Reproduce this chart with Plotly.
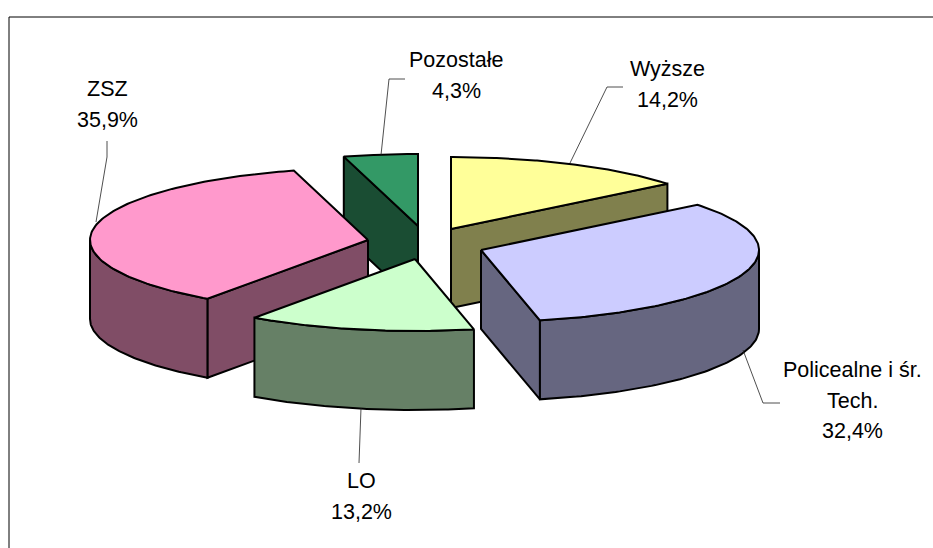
import numpy as np
import plotly.graph_objects as go

# ---- data (clockwise from 12 o'clock) ----
categories = ["Wyższe", "Policealne i śr.<br>Tech.", "LO", "ZSZ", "Pozostałe"]
values = [14.2, 32.4, 13.2, 35.9, 4.3]

# ---- style ----
top_colors = ["#FFFF99", "#CCCCFF", "#CCFFCC", "#FF99CC", "#339966"]
side_colors = ["#80804D", "#666680", "#668066", "#804D66", "#1A4D33"]
centres = [(451, 229), (481, 250), (415, 259), (368, 240), (418, 226)]
RX, RY, DEPTH = 278, 72, 79
draw_order = [4, 0, 3, 1, 2]
FONT = "Liberation Sans, Arial, sans-serif"
LINE_W = 2

# label line centres (x, first-line y)
label_pos = [(667, 69), (852, 370), (361, 481), (107, 89), (456, 60)]
LINE_H = 30.5
leaders = [
    [(623, 87), (607, 87), (570, 163)],
    [(780, 403), (763, 403), (743, 350)],
    [(359, 463), (361, 408)],
    [(107, 141), (107, 157), (96, 222)],
    [(405, 79), (389, 79), (381, 155)],
]

edges = np.concatenate([[0], np.cumsum(values)]) / np.sum(values) * 2 * np.pi


def pt(c, a, dz=0.0):
    return c[0] + RX * np.sin(a), c[1] - RY * np.cos(a) + dz


fig = go.Figure()


def face(xs, ys, color):
    fig.add_trace(go.Scatter(
        x=list(xs), y=list(ys), mode="lines", fill="toself", fillcolor=color,
        line=dict(color="black", width=LINE_W, shape="linear"),
        hoverinfo="skip", showlegend=False))


for i in draw_order:
    c = centres[i]
    a0, a1 = edges[i], edges[i + 1]
    # radial wall at the start edge, visible if it faces the viewer
    if np.cos(a0 - np.pi / 2) < -1e-6:
        x, y = pt(c, a0)
        face([c[0], x, x, c[0], c[0]], [c[1], y, y + DEPTH, c[1] + DEPTH, c[1]], side_colors[i])
    # radial wall at the end edge
    if np.cos(a1 + np.pi / 2) < -1e-6:
        x, y = pt(c, a1)
        face([c[0], x, x, c[0], c[0]], [c[1], y, y + DEPTH, c[1] + DEPTH, c[1]], side_colors[i])
    # outer rim: only the front half of the ellipse is visible
    lo, hi = max(a0, np.pi / 2), min(a1, 3 * np.pi / 2)
    if hi > lo:
        t = np.linspace(lo, hi, 80)
        xt, yt = pt(c, t)
        face(np.concatenate([xt, xt[::-1], xt[:1]]),
             np.concatenate([yt, yt[::-1] + DEPTH, yt[:1]]), side_colors[i])
    # top surface
    t = np.linspace(a0, a1, 120)
    xt, yt = pt(c, t)
    face(np.concatenate([[c[0]], xt, [c[0]]]), np.concatenate([[c[1]], yt, [c[1]]]), top_colors[i])

shapes = [
    dict(type="line", x0=9, y0=17, x1=933, y1=17, line=dict(color="black", width=1)),
    dict(type="line", x0=9, y0=17, x1=9, y1=548, line=dict(color="black", width=1)),
]
for pts in leaders:
    for (x0, y0), (x1, y1) in zip(pts[:-1], pts[1:]):
        shapes.append(dict(type="line", x0=x0, y0=y0, x1=x1, y1=y1,
                           line=dict(color="#222222", width=0.8)))

annotations = []
for name, v, (lx, ly) in zip(categories, values, label_pos):
    lines = name.split("<br>") + [f"{v:.1f}".replace(".", ",") + "%"]
    for k, s in enumerate(lines):
        annotations.append(dict(x=lx, y=ly + k * LINE_H, text=s, showarrow=False,
                                xanchor="center", yanchor="middle",
                                font=dict(family=FONT, size=21.5, color="black")))

fig.update_layout(
    width=933, height=548, margin=dict(l=0, r=0, t=0, b=0),
    paper_bgcolor="white", plot_bgcolor="white", showlegend=False,
    xaxis=dict(range=[0, 933], visible=False, fixedrange=True),
    yaxis=dict(range=[548, 0], visible=False, fixedrange=True),
    shapes=shapes, annotations=annotations,
)
fig.write_html("out.html", config={"displayModeBar": False},
               post_script="document.body.style.margin='0';document.body.style.overflow='hidden';")
